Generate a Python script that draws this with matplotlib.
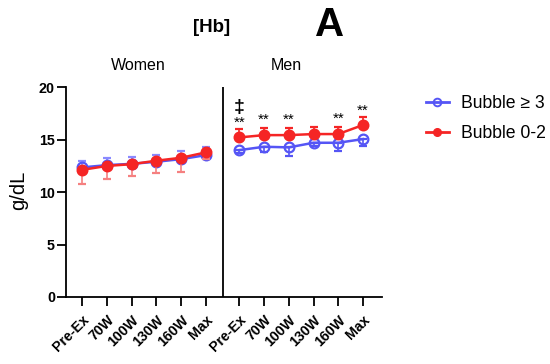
import matplotlib.pyplot as plt
from matplotlib.lines import Line2D
from matplotlib.transforms import ScaledTranslation

plt.rcParams.update({
    "font.family": ["Liberation Sans", "DejaVu Sans"],
    "font.size": 10,
})

stages = ['Pre-Ex', '70W', '100W', '130W', '160W', 'Max']
groups = ['Women', 'Men']

# Hb means (g/dL) and SD
women_hi = [12.36, 12.58, 12.70, 12.90, 13.15, 13.53]   # Bubble >= 3
women_hi_sd = [0.64, 0.70, 0.67, 0.60, 0.75, 0.80]
women_lo = [12.13, 12.50, 12.67, 13.00, 13.28, 13.79]   # Bubble 0-2
women_lo_sd = [1.37, 1.20, 1.14, 1.20, 1.34, 0.65]

men_hi = [14.01, 14.33, 14.27, 14.71, 14.71, 15.06]
men_hi_sd = [0.25, 0.54, 0.83, 0.29, 0.77, 0.64]
men_lo = [15.22, 15.44, 15.44, 15.54, 15.54, 16.40]
men_lo_sd = [0.77, 0.70, 0.70, 0.70, 0.70, 0.79]

star_stages = ['Pre-Ex', '70W', '100W', '160W', 'Max']
star_y = [16.66, 16.88, 16.88, 16.97, 17.77]
dagger_y = 18.1

blue = '#5555f5'
red = '#f52525'
gap = 6.36

xw = list(range(len(stages)))
xm = [x + gap for x in xw]

fig = plt.figure(figsize=(5.5, 3.64), dpi=100)
ax = fig.add_axes([66 / 550, 1 - 297 / 364, (381.7 - 66) / 550, (297 - 87.3) / 364])

zeros = [0] * len(stages)
mk = dict(ms=7, mew=1.6, lw=1.8, capsize=3, capthick=1.2, elinewidth=1.2)

# women: blue SD up, red SD down
ax.errorbar(xw, women_hi, yerr=[zeros, women_hi_sd], color=blue, ecolor='#8a8aff',
            marker='o', mfc='none', mec=blue, zorder=3, **mk)
ax.errorbar(xw, women_lo, yerr=[women_lo_sd, zeros], color=red, ecolor='#f58080',
            marker='o', mfc=red, mec=red, zorder=4, **mk)
# men: blue SD down, red SD up
ax.errorbar(xm, men_hi, yerr=[men_hi_sd, zeros], color=blue, ecolor=blue,
            marker='o', mfc='none', mec=blue, zorder=3, **mk)
ax.errorbar(xm, men_lo, yerr=[zeros, men_lo_sd], color=red, ecolor=red,
            marker='o', mfc=red, mec=red, zorder=4, **mk)

for s, y in zip(star_stages, star_y):
    ax.text(xm[stages.index(s)], y, '**', ha='center', va='center', fontsize=11)
ax.text(xm[0], dagger_y, '\u2021', ha='center', va='center', fontsize=14, fontweight='bold')

ax.axvline(5.70, ymin=0, ymax=1, color='black', lw=1.3)

ax.set_xlim(-0.66, 12.12)
ax.set_ylim(0, 20)
ax.set_yticks([0, 5, 10, 15, 20])
ax.set_xticks(xw + xm)
ax.set_xticklabels(stages + stages, rotation=45, ha='right', rotation_mode='anchor',
                   fontweight='bold', fontsize=10.2)
shift = ScaledTranslation(-1 / 100, 0, fig.dpi_scale_trans)
for lbl in ax.get_xticklabels():
    lbl.set_transform(lbl.get_transform() + shift)
for lbl in ax.get_yticklabels():
    lbl.set_fontweight('bold')
    lbl.set_fontsize(10.3)
ax.tick_params(axis='both', length=6.5, width=1.3, pad=1.5)
ax.tick_params(axis='x', pad=5)
for sp in ['top', 'right']:
    ax.spines[sp].set_visible(False)
for sp in ['left', 'bottom']:
    ax.spines[sp].set_linewidth(1.3)

ax.set_ylabel('g/dL', fontsize=14.5)
ax.yaxis.set_label_coords(-0.12, 0.51)

fig.text(138 / 550, 1 - 65 / 364, groups[0], ha='center', va='center', fontsize=11.5)
fig.text(286 / 550, 1 - 65 / 364, groups[1], ha='center', va='center', fontsize=11.5)
fig.text(212 / 550, 1 - 28 / 364, '[Hb]', ha='center', va='center', fontsize=13.5, fontweight='bold')
fig.text(329.5 / 550, 1 - 24.5 / 364, 'A', ha='center', va='center', fontsize=29, fontweight='bold')

handles = [
    Line2D([], [], color=blue, marker='o', mfc='none', mec=blue, ms=5.5, mew=1.4, lw=2),
    Line2D([], [], color=red, marker='o', mfc=red, mec=red, ms=5.5, lw=2),
]
fig.legend(handles, ['Bubble \u2265 3', 'Bubble 0-2'], loc='upper left',
           bbox_to_anchor=(426 / 550, 1 - 95 / 364), frameon=False, fontsize=12.7,
           handlelength=1.3, handletextpad=0.7, labelspacing=0.72, borderpad=0,
           borderaxespad=0)

fig.savefig('out.png', dpi=100)
